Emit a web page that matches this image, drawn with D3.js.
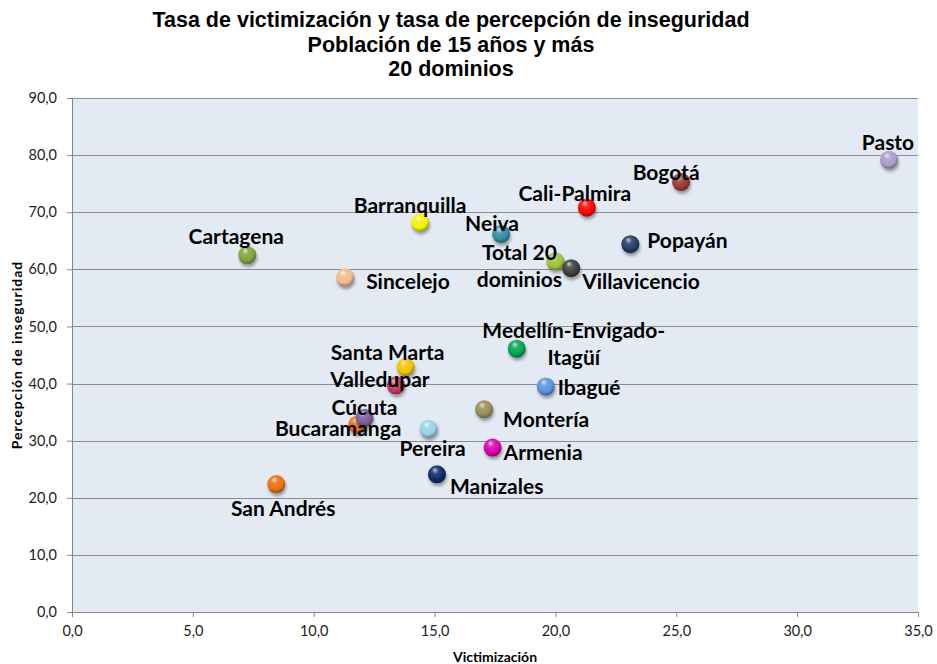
<!DOCTYPE html>
<html lang="es">
<head>
<meta charset="UTF-8">
<title>Tasa de victimización y tasa de percepción de inseguridad</title>
<script src="https://d3js.org/d3.v7.min.js"></script>
<style>
  body { margin: 0; background: #fff; }
  .title { font-family: "Liberation Sans", Arial, sans-serif; font-weight: bold; font-size: 21.5px; text-anchor: middle; fill: #000; }
  .tick text { font-family: Lato, "Open Sans", sans-serif; font-size: 14.5px; fill: #222; }
  .axis-title { font-family: Lato, "Open Sans", sans-serif; font-weight: bold; font-size: 14px; fill: #000; }
  .lbl { font-family: Lato, "Open Sans", sans-serif; font-weight: bold; font-size: 21px; fill: #000; }
</style>
</head>
<body>
<div id="chart"></div>
<script>
// dominios, victimización (x), percepción de inseguridad (y), color
const names = ["Pasto", "Bogotá", "Cali-Palmira", "Barranquilla", "Neiva", "Popayán", "Cartagena",
  "Total 20 dominios", "Villavicencio", "Sincelejo", "Medellín-Envigado-Itagüí", "Valledupar", "Santa Marta",
  "Ibagué", "Montería", "Bucaramanga", "Cúcuta", "Pereira", "Armenia", "Manizales", "San Andrés"];
const victimizacion = [33.8, 25.2, 21.3, 14.4, 17.75, 23.1, 7.25, 20.0, 20.65, 11.3, 18.4, 13.4, 13.8,
  19.6, 17.05, 11.8, 12.1, 14.75, 17.4, 15.1, 8.45];
const percepcion = [79.2, 75.3, 70.8, 68.2, 66.2, 64.4, 62.5, 61.4, 60.2, 58.6, 46.1, 39.7, 42.9,
  39.5, 35.5, 32.8, 34.0, 32.1, 28.8, 24.1, 22.4];
const colors = ["#a99ccb", "#9c3531", "#ff0000", "#f2f200", "#2f8ca6", "#1f3c64", "#7aa53a",
  "#9cc23a", "#3d3d3d", "#f3b98c", "#00a352", "#c9345a", "#f2c200",
  "#5b92dc", "#968c58", "#e8700c", "#7a5c98", "#96d4e4", "#d800aa", "#0e2868", "#e6700e"];
const xTicks = [0, 5, 10, 15, 20, 25, 30, 35];
const yTicks = [0, 10, 20, 30, 40, 50, 60, 70, 80, 90];
const titleLines = ["Tasa de victimización y tasa de percepción de inseguridad",
  "Población de 15 años y más", "20 dominios"];

// label placement: [dx, dy, anchor, lines]
const labelPos = {
  "Pasto": [-1, -19, "middle"],
  "Bogotá": [-15, -11, "middle"],
  "Cali-Palmira": [-12, -16, "middle"],
  "Barranquilla": [-10, -19, "middle"],
  "Neiva": [-9, -12, "middle"],
  "Popayán": [17, -5, "start"],
  "Cartagena": [-11, -20, "middle"],
  "Total 20 dominios": [-36, -10, "middle", ["Total 20", "dominios"]],
  "Villavicencio": [11, 12, "start"],
  "Sincelejo": [21, 3, "start"],
  "Medellín-Envigado-Itagüí": [57, -20, "middle", ["Medellín-Envigado-", "Itagüí"]],
  "Santa Marta": [-18, -16, "middle"],
  "Valledupar": [-16, -7, "middle"],
  "Cúcuta": [0, -12, "middle"],
  "Bucaramanga": [-19, 2, "middle"],
  "Pereira": [4, 18, "middle"],
  "Manizales": [13, 11, "start"],
  "San Andrés": [7, 23, "middle"],
  "Ibagué": [12, 0, "start"],
  "Montería": [19, 9, "start"],
  "Armenia": [11, 3, "start"]
};

const W = 937, H = 664;
const margin = { top: 98, right: 19, bottom: 52, left: 72 };
const width = W - margin.left - margin.right;
const height = H - margin.top - margin.bottom;
const fmt = d => d3.format(".1f")(d).replace(".", ",");

const svgRoot = d3.select("#chart").append("svg")
  .attr("width", W).attr("height", H);
const defs = svgRoot.append("defs");

defs.append("filter").attr("id", "shadow")
  .attr("x", "-50%").attr("y", "-50%").attr("width", "200%").attr("height", "200%")
  .append("feGaussianBlur").attr("stdDeviation", 1.8);

const data = names.map((n, i) => ({ name: n, x: victimizacion[i], y: percepcion[i], color: colors[i], i }));

data.forEach(d => {
  const c = d3.color(d.color);
  const g = defs.append("radialGradient").attr("id", "ball" + d.i)
    .attr("cx", "45%").attr("cy", "40%").attr("r", "60%")
    .attr("fx", "38%").attr("fy", "25%");
  g.append("stop").attr("offset", "0%").attr("stop-color", d3.interpolateRgb(d.color, "#fff")(0.75));
  g.append("stop").attr("offset", "30%").attr("stop-color", d3.interpolateRgb(d.color, "#fff")(0.15));
  g.append("stop").attr("offset", "75%").attr("stop-color", d.color);
  g.append("stop").attr("offset", "100%").attr("stop-color", c.darker(1.2));
});

svgRoot.selectAll("text.title").data(titleLines).enter().append("text")
  .attr("class", "title")
  .attr("x", 451).attr("y", (d, i) => 27 + i * 24.5)
  .text(d => d);

const svg = svgRoot.append("g").attr("transform", `translate(${margin.left},${margin.top})`);

const x = d3.scaleLinear().domain([0, 35]).range([0, width]);
const y = d3.scaleLinear().domain([0, 90]).range([height, 0]);

svg.append("rect").attr("width", width).attr("height", height).attr("fill", "#e4eaf4");

svg.append("g").selectAll("line").data(yTicks.filter(t => t > 0)).enter().append("line")
  .attr("x1", 0).attr("x2", width)
  .attr("y1", d => Math.round(y(d)) + 0.5).attr("y2", d => Math.round(y(d)) + 0.5)
  .attr("stroke", "#8c8c8c").attr("stroke-width", 1);

const xAxis = svg.append("g").attr("transform", `translate(0,${height})`)
  .call(d3.axisBottom(x).tickValues(xTicks).tickFormat(fmt).tickSize(5).tickPadding(9));
const yAxis = svg.append("g")
  .call(d3.axisLeft(y).tickValues(yTicks).tickFormat(fmt).tickSize(5).tickPadding(10));
[xAxis, yAxis].forEach(a => {
  a.select(".domain").attr("stroke", "#868686");
  a.selectAll(".tick line").attr("stroke", "#868686");
});

svgRoot.append("text").attr("class", "axis-title")
  .attr("x", margin.left + width / 2).attr("y", 662)
  .attr("text-anchor", "middle").text("Victimización");
svgRoot.append("text").attr("class", "axis-title")
  .attr("transform", `translate(22,${margin.top + height / 2}) rotate(-90)`)
  .attr("text-anchor", "middle").style("letter-spacing", "1px")
  .text("Percepción de inseguridad");

const r = 9;
const pts = svg.append("g").selectAll("g").data(data).enter().append("g")
  .attr("transform", d => `translate(${x(d.x)},${y(d.y)})`);
pts.append("ellipse").attr("cx", 1).attr("cy", 3).attr("rx", r).attr("ry", r)
  .attr("fill", "rgba(0,0,0,0.35)").attr("filter", "url(#shadow)");
pts.append("circle").attr("r", r).attr("fill", d => `url(#ball${d.i})`);

const labels = svg.append("g").selectAll("text").data(data).enter().append("text")
  .attr("class", "lbl")
  .attr("text-anchor", d => labelPos[d.name][2])
  .attr("dominant-baseline", "central")
  .attr("x", d => x(d.x) + labelPos[d.name][0])
  .attr("y", d => y(d.y) + labelPos[d.name][1]);
labels.each(function(d) {
  const lines = labelPos[d.name][3] || [d.name];
  const t = d3.select(this);
  lines.forEach((ln, k) => {
    t.append("tspan").attr("x", x(d.x) + labelPos[d.name][0])
      .attr("dy", k === 0 ? 0 : 27).text(ln);
  });
});
</script>
</body>
</html>
